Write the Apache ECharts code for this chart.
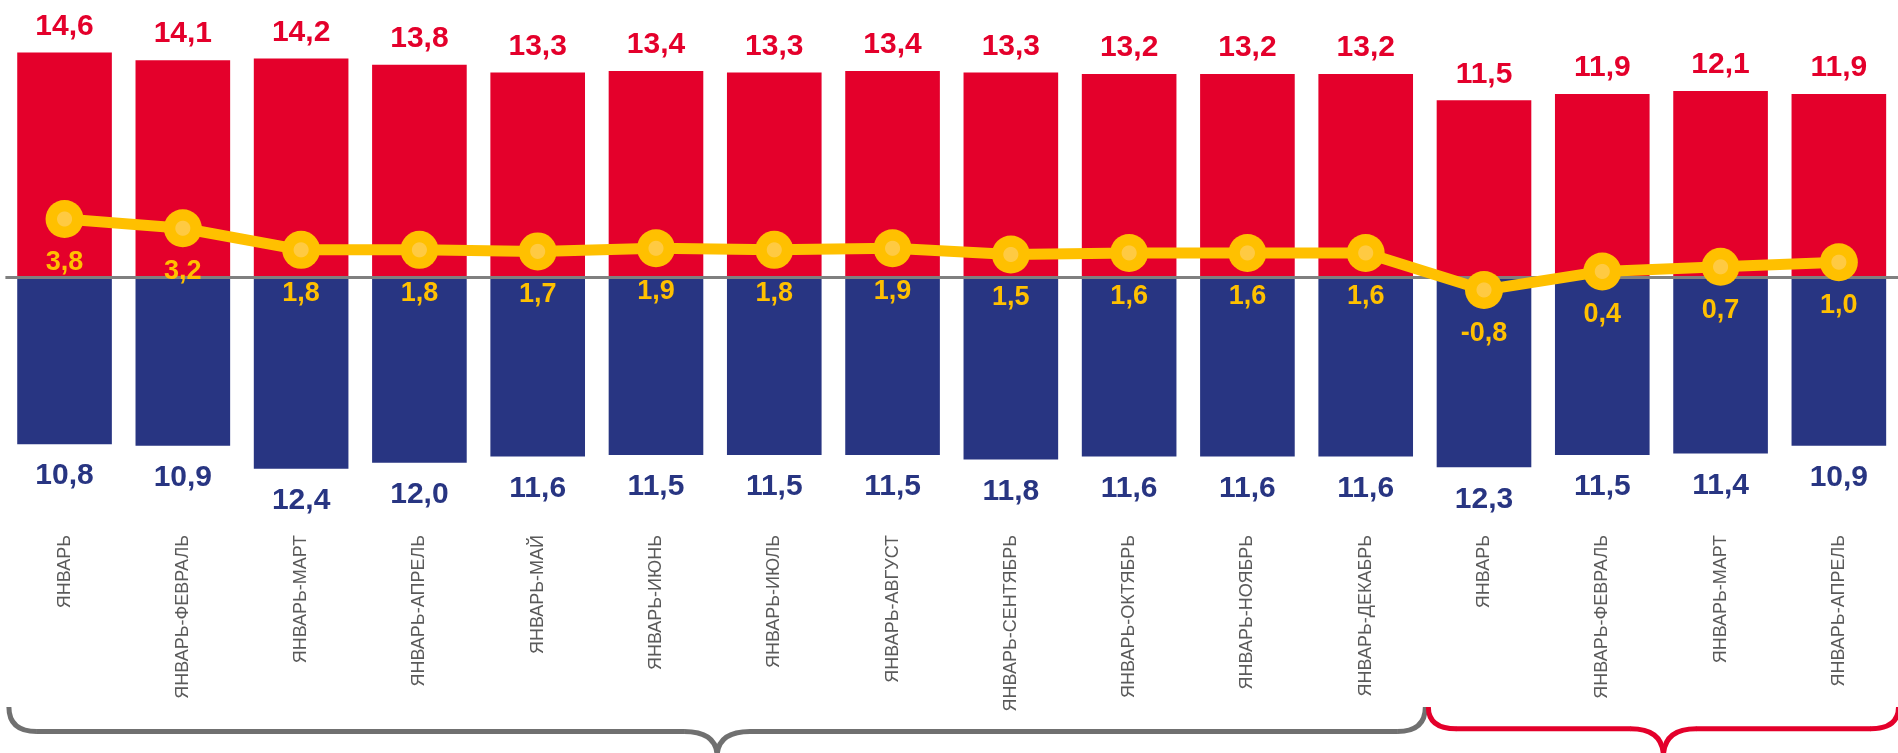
<!DOCTYPE html>
<html>
<head>
<meta charset="utf-8">
<script src="https://cdn.jsdelivr.net/npm/echarts@6/dist/echarts.min.js"></script>
<style>
html,body{margin:0;padding:0;background:#ffffff;overflow:hidden}
#chart{width:1898px;height:753px}
</style>
</head>
<body>
<div id="chart"></div>
<script>
// ---- data ----
const categories = [
  'ЯНВАРЬ','ЯНВАРЬ-ФЕВРАЛЬ','ЯНВАРЬ-МАРТ','ЯНВАРЬ-АПРЕЛЬ','ЯНВАРЬ-МАЙ','ЯНВАРЬ-ИЮНЬ',
  'ЯНВАРЬ-ИЮЛЬ','ЯНВАРЬ-АВГУСТ','ЯНВАРЬ-СЕНТЯБРЬ','ЯНВАРЬ-ОКТЯБРЬ','ЯНВАРЬ-НОЯБРЬ','ЯНВАРЬ-ДЕКАБРЬ',
  'ЯНВАРЬ','ЯНВАРЬ-ФЕВРАЛЬ','ЯНВАРЬ-МАРТ','ЯНВАРЬ-АПРЕЛЬ'
];
const births  = [14.6, 14.1, 14.2, 13.8, 13.3, 13.4, 13.3, 13.4, 13.3, 13.2, 13.2, 13.2, 11.5, 11.9, 12.1, 11.9];
const deaths  = [10.8, 10.9, 12.4, 12.0, 11.6, 11.5, 11.5, 11.5, 11.8, 11.6, 11.6, 11.6, 12.3, 11.5, 11.4, 10.9];
const natural = [3.8, 3.2, 1.8, 1.8, 1.7, 1.9, 1.8, 1.9, 1.5, 1.6, 1.6, 1.6, -0.8, 0.4, 0.7, 1.0];
// category index ranges covered by each brace
const groupFrom = [0, 12];
const groupTo   = [11, 15];

// ---- styles ----
const RED = '#E4002B', NAVY = '#283582', GOLD = '#FFC000';
const braceColors = ['#707070', RED];
const braceY = [731.5, 728.8];
const FONT = '"Liberation Sans", Arial, sans-serif';

const fmt = v => Math.abs(v).toFixed(1).replace('.', ',');
const fmtSigned = v => v.toFixed(1).replace('.', ',');

const chart = echarts.init(document.getElementById('chart'), null, {renderer: 'canvas'});

const option = {
  backgroundColor: '#ffffff',
  animation: false,
  grid: { left: 5.4, top: -0.9, width: 1908.7, height: 509.85, containLabel: false },
  xAxis: {
    type: 'category',
    data: categories,
    position: 'bottom',
    axisLine: { show: false, onZero: false },
    axisTick: { show: false },
    axisLabel: {
      interval: 0, rotate: 90, margin: 26,
      color: '#5a5a5a', fontFamily: FONT, fontSize: 18
    }
  },
  yAxis: { type: 'value', min: -15, max: 18, show: false, splitLine: { show: false } },
  series: [
    {
      name: 'births', type: 'bar', data: births, barWidth: '80%', barGap: '-100%',
      itemStyle: { color: RED },
      label: {
        show: true, position: 'top', distance: 11, formatter: p => fmt(p.value),
        color: RED, fontFamily: FONT, fontWeight: 'bold', fontSize: 30
      }
    },
    {
      name: 'deaths', type: 'bar', data: deaths.map(v => -v), barWidth: '80%', barGap: '-100%',
      itemStyle: { color: NAVY },
      label: {
        show: true, position: 'bottom', distance: 17, formatter: p => fmt(p.value),
        color: NAVY, fontFamily: FONT, fontWeight: 'bold', fontSize: 30
      },
      markLine: {
        silent: true, symbol: 'none', z: 2.5,
        label: { show: false },
        lineStyle: { color: '#808080', width: 3, type: 'solid' },
        data: [{ yAxis: 0 }]
      }
    },
    {
      name: 'natural', type: 'line', data: natural, z: 4,
      symbol: 'circle', symbolSize: 38,
      lineStyle: { color: GOLD, width: 11 },
      itemStyle: {
        color: {
          type: 'radial', x: 0.5, y: 0.5, r: 0.5,
          colorStops: [
            { offset: 0, color: '#FFCA42' }, { offset: 0.37, color: '#FFCA42' },
            { offset: 0.42, color: GOLD }, { offset: 1, color: GOLD }
          ]
        }
      },
      label: {
        show: true, position: 'bottom', distance: 11, formatter: p => fmtSigned(p.value),
        color: GOLD, fontFamily: FONT, fontWeight: 'bold', fontSize: 27
      }
    }
  ]
};

chart.setOption(option);

// braces below the category labels, placed from the category axis scale
function braceElements(x0, x1, yh, color) {
  const c = (x0 + x1) / 2, r = 28, r2 = 33, yTop = 707, yTip = 757;
  const st = { fill: null, stroke: color, lineWidth: 5, lineCap: 'butt' };
  const curve = (ax, ay, cx, cy, bx, by) => ({
    type: 'bezierCurve', silent: true,
    shape: { x1: ax, y1: ay, cpx1: cx, cpy1: cy, x2: bx, y2: by }, style: st
  });
  const seg = (ax, bx) => ({
    type: 'line', silent: true, shape: { x1: ax, y1: yh, x2: bx, y2: yh }, style: st
  });
  return [
    curve(x0, yTop, x0, yh, x0 + r, yh),
    seg(x0 + r - 0.5, c - r2 + 0.5),
    curve(c - r2, yh, c, yh, c, yTip),
    curve(c, yTip, c, yh, c + r2, yh),
    seg(c + r2 - 0.5, x1 - r + 0.5),
    curve(x1 - r, yh, x1, yh, x1, yTop)
  ];
}
const p0 = chart.convertToPixel({ xAxisIndex: 0 }, 0);
const p1 = chart.convertToPixel({ xAxisIndex: 0 }, 1);
const pitch = p1 - p0;
let graphics = [];
groupFrom.forEach((f, i) => {
  const x0 = chart.convertToPixel({ xAxisIndex: 0 }, f) - pitch / 2 + 3.5;
  const x1 = chart.convertToPixel({ xAxisIndex: 0 }, groupTo[i]) + pitch / 2 + 0.5;
  graphics = graphics.concat(braceElements(x0, x1, braceY[i], braceColors[i]));
});
chart.setOption({ graphic: { elements: graphics } });
</script>
</body>
</html>
